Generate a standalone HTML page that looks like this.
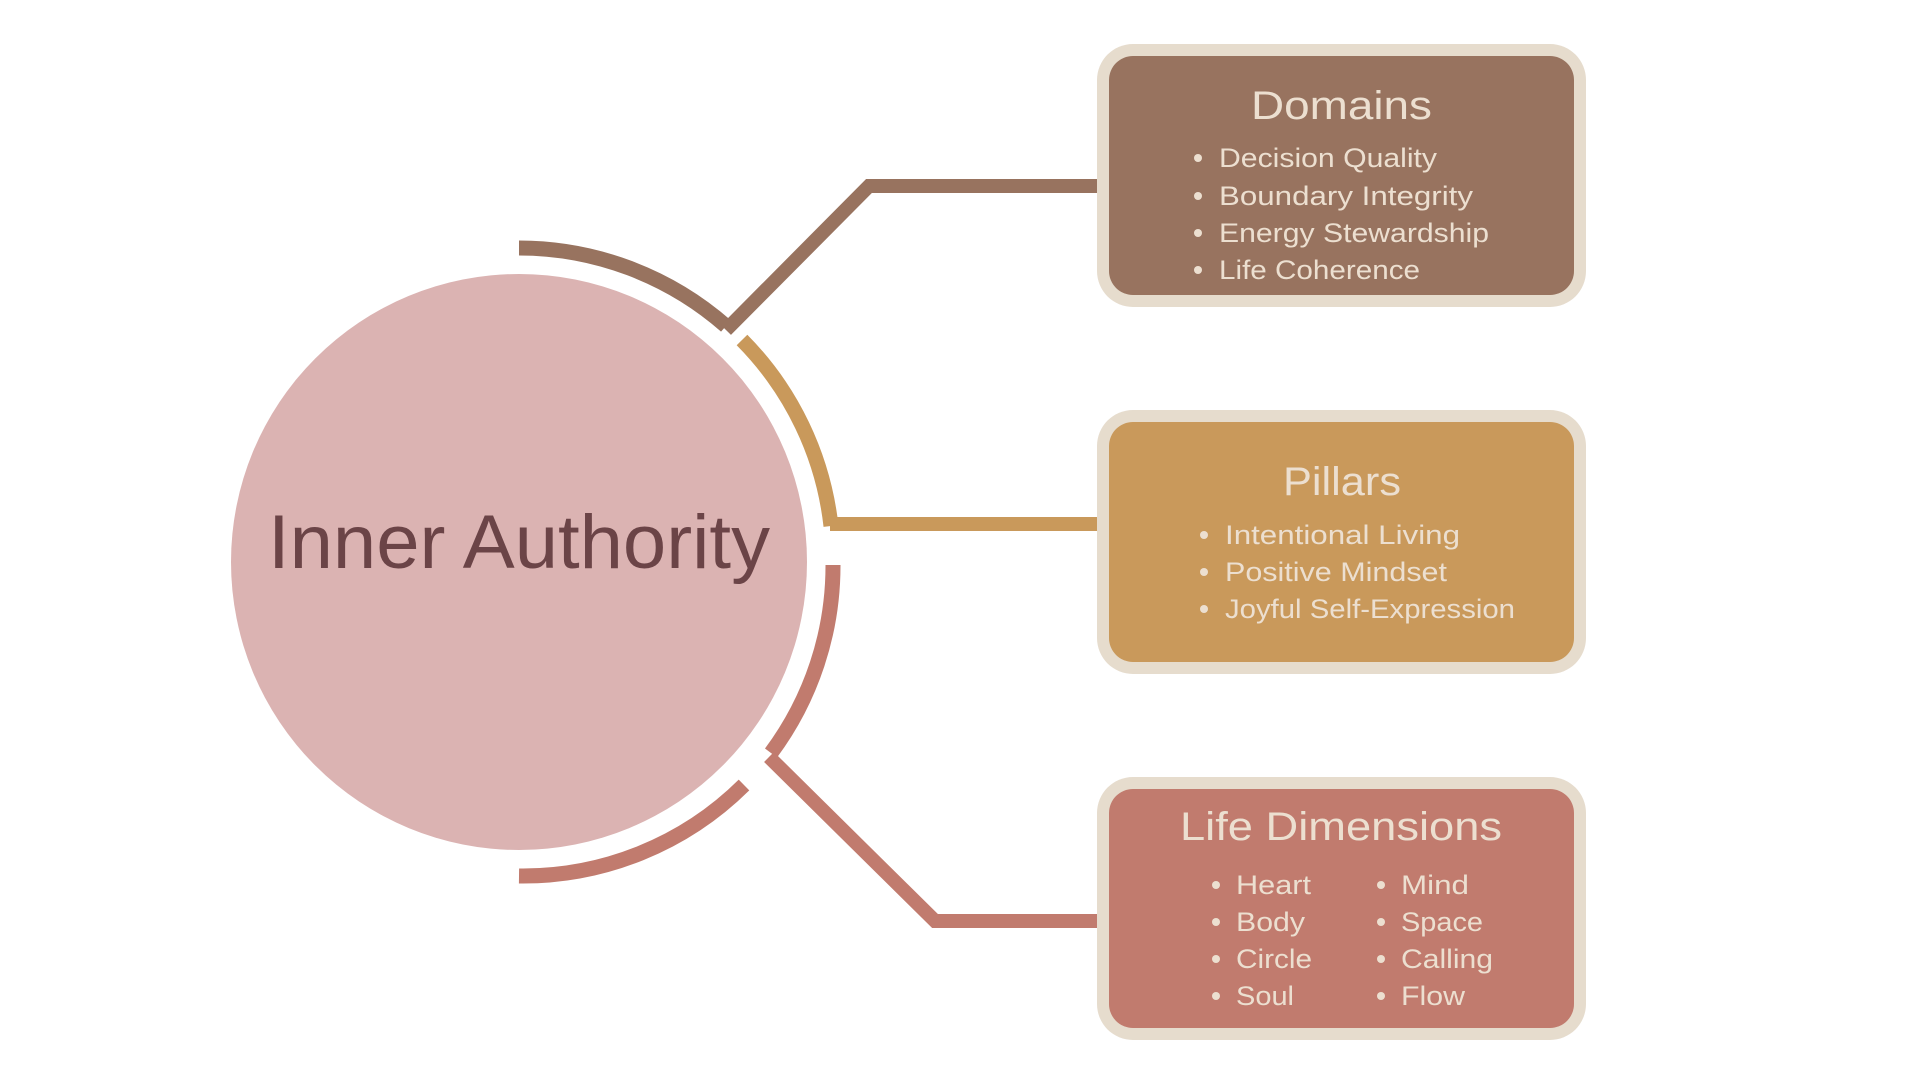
<!DOCTYPE html>
<html><head><meta charset="utf-8"><style>
html,body{margin:0;padding:0;background:#fff;width:1920px;height:1080px;overflow:hidden}
svg{display:block}
text{font-family:"Liberation Sans",sans-serif}
</style></head><body>
<svg width="1920" height="1080" viewBox="0 0 1920 1080" xmlns="http://www.w3.org/2000/svg">
<circle cx="519" cy="562" r="288" fill="#dbb3b2"/>
<text x="268" y="568" font-size="76" fill="#6b4447" textLength="502" lengthAdjust="spacingAndGlyphs">Inner Authority</text>
<g fill="none" stroke-width="15">
<path d="M519 248 A314 314 0 0 1 726 326" stroke="#98735f"/>
<path d="M742 340 A314 314 0 0 1 831 526" stroke="#c9995b"/>
<path d="M833 565 A314 314 0 0 1 771 753" stroke="#c17b6e"/>
<path d="M744 785 A314 314 0 0 1 519 876" stroke="#c17b6e"/>
<polyline points="726,330 869,186 1101,186" stroke="#98735f" stroke-width="14"/>
<polyline points="830,524 1101,524" stroke="#c9995b" stroke-width="14"/>
<polyline points="769,757 935,921 1101,921" stroke="#c17b6e" stroke-width="14"/>
</g>
<g>
<rect x="1097" y="44" width="489" height="263" rx="36" fill="#e6dccd"/>
<rect x="1109" y="56" width="465" height="239" rx="24" fill="#98735f"/>
<rect x="1097" y="410" width="489" height="264" rx="36" fill="#e6dccd"/>
<rect x="1109" y="422" width="465" height="240" rx="24" fill="#c9995b"/>
<rect x="1097" y="777" width="489" height="263" rx="36" fill="#e6dccd"/>
<rect x="1109" y="789" width="465" height="239" rx="24" fill="#c17b6e"/>
</g>
<g fill="#ecdfd0">
<text x="1251" y="119" font-size="40" textLength="181" lengthAdjust="spacingAndGlyphs">Domains</text>
<g font-size="27">
<circle cx="1198" cy="158" r="4"/><text x="1219" y="167" textLength="218" lengthAdjust="spacingAndGlyphs">Decision Quality</text>
<circle cx="1198" cy="196" r="4"/><text x="1219" y="205" textLength="254" lengthAdjust="spacingAndGlyphs">Boundary Integrity</text>
<circle cx="1198" cy="233" r="4"/><text x="1219" y="242" textLength="270" lengthAdjust="spacingAndGlyphs">Energy Stewardship</text>
<circle cx="1198" cy="270" r="4"/><text x="1219" y="279" textLength="201" lengthAdjust="spacingAndGlyphs">Life Coherence</text>
</g>
<text x="1283" y="495" font-size="40" textLength="118" lengthAdjust="spacingAndGlyphs">Pillars</text>
<g font-size="27">
<circle cx="1204" cy="535" r="4"/><text x="1225" y="544" textLength="235" lengthAdjust="spacingAndGlyphs">Intentional Living</text>
<circle cx="1204" cy="572" r="4"/><text x="1225" y="581" textLength="222" lengthAdjust="spacingAndGlyphs">Positive Mindset</text>
<circle cx="1204" cy="609" r="4"/><text x="1225" y="618" textLength="290" lengthAdjust="spacingAndGlyphs">Joyful Self-Expression</text>
</g>
<text x="1180" y="840" font-size="40" textLength="322" lengthAdjust="spacingAndGlyphs">Life Dimensions</text>
<g font-size="27">
<circle cx="1216" cy="885" r="4"/><text x="1236" y="894" textLength="75" lengthAdjust="spacingAndGlyphs">Heart</text>
<circle cx="1216" cy="922" r="4"/><text x="1236" y="931" textLength="69" lengthAdjust="spacingAndGlyphs">Body</text>
<circle cx="1216" cy="959" r="4"/><text x="1236" y="968" textLength="76" lengthAdjust="spacingAndGlyphs">Circle</text>
<circle cx="1216" cy="996" r="4"/><text x="1236" y="1005" textLength="58" lengthAdjust="spacingAndGlyphs">Soul</text>
<circle cx="1381" cy="885" r="4"/><text x="1401" y="894" textLength="68" lengthAdjust="spacingAndGlyphs">Mind</text>
<circle cx="1381" cy="922" r="4"/><text x="1401" y="931" textLength="82" lengthAdjust="spacingAndGlyphs">Space</text>
<circle cx="1381" cy="959" r="4"/><text x="1401" y="968" textLength="92" lengthAdjust="spacingAndGlyphs">Calling</text>
<circle cx="1381" cy="996" r="4"/><text x="1401" y="1005" textLength="64" lengthAdjust="spacingAndGlyphs">Flow</text>
</g>
</g>
</svg>
</body></html>
